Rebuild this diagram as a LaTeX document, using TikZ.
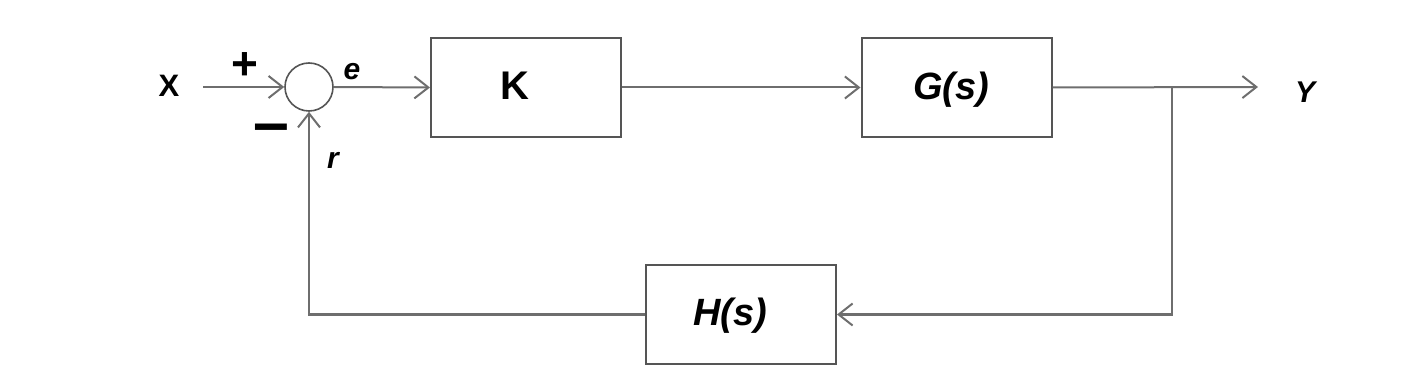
\documentclass[tikz,border=0pt]{standalone}
\usepackage{fontspec}
\setmainfont{Liberation Sans}
\usetikzlibrary{arrows.meta}
\definecolor{lgray}{RGB}{110,110,110}
\definecolor{bgray}{RGB}{85,85,85}
\begin{document}
\begin{tikzpicture}[x=1pt,y=-1pt,
  block/.style={draw=bgray, line width=2pt, minimum width=190pt, minimum height=99pt, inner sep=0pt},
  sumc/.style={circle, draw=bgray, line width=1.6pt, minimum size=48pt, inner sep=0pt},
  arr/.style={draw=lgray, line width=2pt, -{Straight Barb[length=14pt,width=22pt,line width=2pt]}},
  klbl/.style={font=\fontsize{40}{40}\selectfont\bfseries, inner sep=0pt},
  ilbl/.style={font=\fontsize{38}{38}\selectfont\bfseries\itshape, inner sep=0pt},
  slbl/.style={font=\fontsize{31}{31}\selectfont\bfseries, inner sep=0pt},
  islbl/.style={font=\fontsize{30}{30}\selectfont\bfseries\itshape, inner sep=0pt},
  sign/.style={font=\fontsize{46}{46}\selectfont\bfseries, inner sep=0pt}
]
\useasboundingbox (0,0) rectangle (1416,387);
\node[sumc] (sum) at (309,87) {};
\node[block] (K) at (526,87.5) {};
\node[klbl] (Kl) at (515,86) {K};
\node[block] (G) at (956.5,87.5) {};
\node[ilbl] (Gl) at (951,90) {G(s)};
\node[block] (H) at (741,314.5) {};
\node[ilbl] (Hl) at (730,316) {H(s)};
\node[slbl] (X) at (169,86) {X};
\node[islbl] (Y) at (1305,92) {Y};
\node[islbl] (e) at (352,72) {e};
\node[islbl] (r) at (333,160) {r};
\node[sign] (plus) at (245,66) {+};
\node[sign, scale=1.4] (minus) at (271,134) {\textendash};
\coordinate (xin) at (203,87);
\coordinate (yout) at (1258,87);
\coordinate (br) at (1172,87);
\draw[arr] (xin) -- (sum.west);
\draw[arr] (sum.east) -- (K.west);
\draw[arr] (K.east) -- (G.west);
\draw[arr] (G.east) -- (yout);
\draw[arr] (br) |- (H.east);
\draw[arr] (H.west) -| (sum.south);
\end{tikzpicture}
\end{document}
